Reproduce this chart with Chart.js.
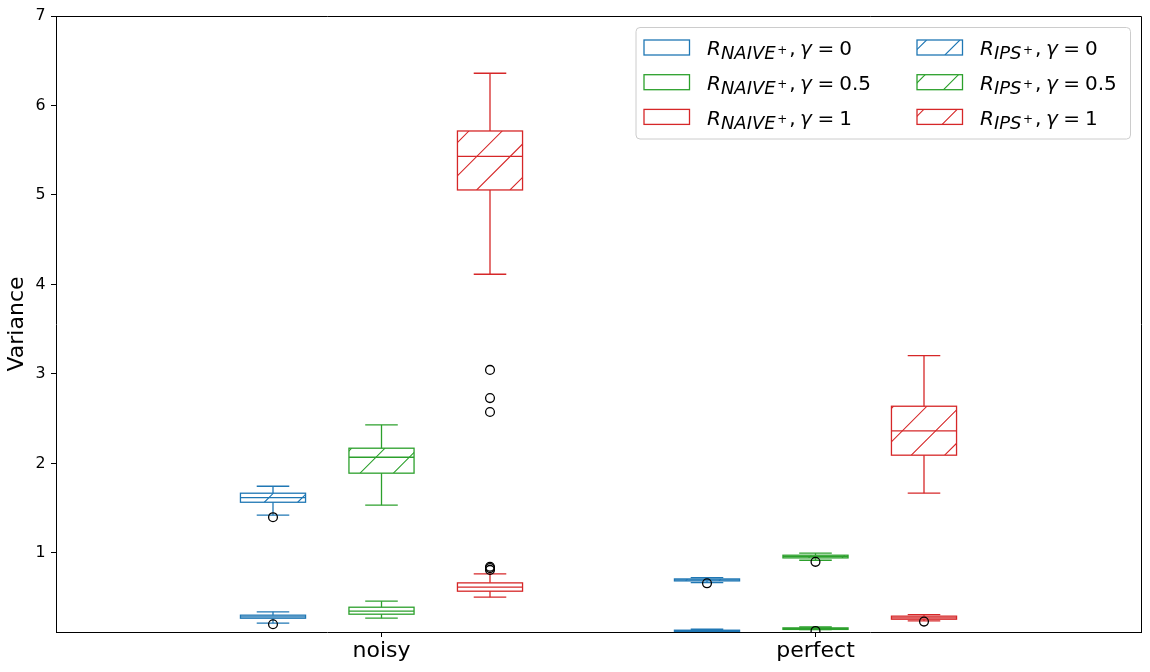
<!DOCTYPE html>
<html><head><meta charset="utf-8">
<script src="https://cdn.jsdelivr.net/npm/chart.js@4.4.1/dist/chart.umd.min.js"></script>
<style>html,body{margin:0;padding:0;background:#fff;} canvas{display:block;}</style>
</head><body>
<canvas id="c" width="1150" height="672" style="width:1150px;height:672px"></canvas>
<script>
// ---------------- data ----------------
const categories = ['noisy', 'perfect'];
const categoryPositions = [3, 7];
const gammaLabels = ['0', '0.5', '1'];
const gammaOffsets = [-1, 0, 1];
const yTickValues = [1, 2, 3, 4, 5, 6, 7];
const yAxisTitle = 'Variance';

// five-number summaries: [lower whisker, Q1, median, Q3, upper whisker]; one entry per category
const naiveG0  = [[0.215, 0.270, 0.285, 0.304, 0.341], [0.100, 0.121, 0.128, 0.136, 0.147]];
const naiveG05 = [[0.270, 0.315, 0.349, 0.393, 0.460], [0.142, 0.145, 0.153, 0.162, 0.172]];
const naiveG1  = [[0.505, 0.572, 0.617, 0.665, 0.765], [0.240, 0.259, 0.274, 0.293, 0.311]];
const ipsG0    = [[1.421, 1.566, 1.618, 1.667, 1.745], [0.668, 0.687, 0.698, 0.709, 0.724]];
const ipsG05   = [[1.533, 1.891, 2.069, 2.170, 2.430], [0.918, 0.944, 0.959, 0.974, 0.997]];
const ipsG1    = [[4.114, 5.056, 5.432, 5.715, 6.360], [1.667, 2.092, 2.363, 2.639, 3.204]];

// outliers, one list per category
const naiveG0Out  = [[0.203], []];
const naiveG05Out = [[], [0.128]];
const naiveG1Out  = [[0.810, 0.830, 0.845], [0.232]];
const ipsG0Out    = [[1.399], [0.660]];
const ipsG05Out   = [[], [0.900]];
const ipsG1Out    = [[3.045, 2.730, 2.575], []];

// ---------------- styling ----------------
const seriesColors = ['#1f77b4', '#2ca02c', '#d62728'];
const FONT = 'DejaVu Sans';
const BOX_HALF = 0.3, CAP_HALF = 0.15;
const HATCH_STEP = 33.33;

const boxSeries = [
  {sub: 'NAIVE', hatch: false, stats: [naiveG0, naiveG05, naiveG1], outliers: [naiveG0Out, naiveG05Out, naiveG1Out]},
  {sub: 'IPS',   hatch: true,  stats: [ipsG0, ipsG05, ipsG1],       outliers: [ipsG0Out, ipsG05Out, ipsG1Out]}
];

const datasets = [];
boxSeries.forEach(s => s.outliers.forEach((perCat, g) => {
  const pts = [];
  perCat.forEach((vals, c) => vals.forEach(v => pts.push({x: categoryPositions[c] + gammaOffsets[g], y: v})));
  datasets.push({
    label: 'R_' + s.sub + ' γ=' + gammaLabels[g] + ' outliers',
    data: pts, showLine: false,
    pointRadius: 4.4, pointHoverRadius: 4.4,
    pointBorderColor: '#000', pointBackgroundColor: 'rgba(0,0,0,0)', pointBorderWidth: 1.3
  });
}));

function drawHatch(ctx, x0, y0, x1, y1, color) {
  ctx.save();
  ctx.beginPath(); ctx.rect(x0, y0, x1 - x0, y1 - y0); ctx.clip();
  ctx.strokeStyle = color; ctx.lineWidth = 1.1;
  const kmin = Math.floor((x0 + y0) / HATCH_STEP), kmax = Math.ceil((x1 + y1) / HATCH_STEP);
  ctx.beginPath();
  for (let k = kmin; k <= kmax; k++) {
    const c = k * HATCH_STEP;
    ctx.moveTo(c - y1, y1); ctx.lineTo(c - y0, y0);
  }
  ctx.stroke();
  ctx.restore();
}

function seg(ctx, a, b, c, d) { ctx.beginPath(); ctx.moveTo(a, b); ctx.lineTo(c, d); ctx.stroke(); }

const boxPlugin = {
  id: 'boxes',
  beforeDatasetsDraw(chart) {
    const {ctx, chartArea: a, scales: {x, y}} = chart;
    ctx.save();
    ctx.beginPath(); ctx.rect(a.left, a.top, a.right - a.left, a.bottom - a.top); ctx.clip();
    boxSeries.forEach(s => s.stats.forEach((perCat, g) => {
      const col = seriesColors[g];
      perCat.forEach((st, c) => {
        const pos = categoryPositions[c] + gammaOffsets[g];
        const xc = x.getPixelForValue(pos);
        const xl = x.getPixelForValue(pos - BOX_HALF), xr = x.getPixelForValue(pos + BOX_HALF);
        const cl = x.getPixelForValue(pos - CAP_HALF), cr = x.getPixelForValue(pos + CAP_HALF);
        const [lo, q1, med, q3, hi] = st.map(v => y.getPixelForValue(v));
        if (s.hatch) drawHatch(ctx, xl, q3, xr, q1, col);
        ctx.strokeStyle = col; ctx.lineWidth = 1.3;
        ctx.strokeRect(xl, q3, xr - xl, q1 - q3);
        seg(ctx, xl, med, xr, med);
        seg(ctx, xc, q3, xc, hi);
        seg(ctx, xc, q1, xc, lo);
        seg(ctx, cl, hi, cr, hi);
        seg(ctx, cl, lo, cr, lo);
      });
    }));
    ctx.restore();
  }
};

const framePlugin = {
  id: 'frame',
  afterDraw(chart) {
    const {ctx, chartArea: a} = chart;
    ctx.save();
    ctx.strokeStyle = '#000'; ctx.lineWidth = 1;
    ctx.beginPath();
    ctx.moveTo(Math.round(a.left) + 0.5, Math.round(a.top) + 0.5);
    ctx.lineTo(Math.round(a.right) + 0.5, Math.round(a.top) + 0.5);
    ctx.lineTo(Math.round(a.right) + 0.5, Math.round(a.bottom) + 0.5);
    ctx.stroke();
    ctx.restore();
  }
};

function drawLabel(ctx, x, base, sub, gamma) {
  ctx.fillStyle = '#000'; ctx.textBaseline = 'alphabetic'; ctx.textAlign = 'left';
  const put = (t, style, size, dy) => {
    ctx.font = `${style} ${size}px "${FONT}"`;
    ctx.fillText(t, x, base + dy);
    x += ctx.measureText(t).width;
  };
  put('R', 'italic', 20, 0);
  put(sub, 'italic', 18, 4);
  x += 1.5;
  put('+', 'normal', 12, -1.7);
  x += 2;
  put(',', 'normal', 20, 0);
  x += 4.5;
  put('γ', 'italic', 20, 0);
  x += 5.5;
  put('=', 'normal', 20, 0);
  x += 5;
  put(gamma, 'normal', 20, 0);
}

const legendPlugin = {
  id: 'boxLegend',
  afterDraw(chart) {
    const ctx = chart.ctx;
    ctx.save();
    const fx = 636, fy = 27.5, fw = 494.5, fh = 111.5, r = 4;
    ctx.beginPath();
    ctx.roundRect(fx, fy, fw, fh, r);
    ctx.fillStyle = 'rgba(255,255,255,0.8)'; ctx.fill();
    ctx.strokeStyle = '#cccccc'; ctx.lineWidth = 1; ctx.stroke();
    const colSwatchX = [644, 917], colTextX = [707, 980];
    const rowTop = [40, 74.7, 109.4], rowBase = [55.3, 90, 124.7];
    const sw = 45.5, sh = 15;
    boxSeries.forEach((s, ci) => {
      gammaLabels.forEach((gl, ri) => {
        const col = seriesColors[ri];
        const x0 = colSwatchX[ci], y0 = rowTop[ri];
        if (s.hatch) drawHatch(ctx, x0, y0, x0 + sw, y0 + sh, col);
        ctx.strokeStyle = col; ctx.lineWidth = 1.3;
        ctx.strokeRect(x0, y0, sw, sh);
        drawLabel(ctx, colTextX[ci], rowBase[ri], s.sub, gl);
      });
    });
    ctx.restore();
  }
};

new Chart(document.getElementById('c'), {
  type: 'scatter',
  data: {datasets},
  options: {
    responsive: false, animation: false, devicePixelRatio: 1,
    layout: {padding: {top: 16, right: 9, left: 0, bottom: 0}},
    plugins: {legend: {display: false}, tooltip: {enabled: false}},
    events: [],
    scales: {
      x: {
        type: 'linear', min: 0, max: 10,
        afterBuildTicks: s => { s.ticks = categoryPositions.map(v => ({value: v})); },
        afterFit: s => { s.height = 40; },
        ticks: {
          callback: v => categories[categoryPositions.indexOf(v)],
          font: {family: FONT, size: 22}, color: '#000', padding: 1,
          maxRotation: 0, autoSkip: false
        },
        grid: {drawOnChartArea: false, drawTicks: true, tickLength: 5, tickColor: '#000', tickWidth: 1},
        border: {display: true, color: '#000', width: 1}
      },
      y: {
        type: 'linear', min: 0.116, max: 7,
        afterBuildTicks: s => { s.ticks = yTickValues.map(v => ({value: v})); },
        afterFit: s => { s.width = 56; },
        ticks: {font: {family: FONT, size: 15.8}, color: '#000', padding: 5.5, autoSkip: false},
        grid: {drawOnChartArea: false, drawTicks: true, tickLength: 5, tickColor: '#000', tickWidth: 1},
        border: {display: true, color: '#000', width: 1},
        title: {display: true, text: yAxisTitle, font: {family: FONT, size: 22}, color: '#000'}
      }
    }
  },
  plugins: [boxPlugin, framePlugin, legendPlugin]
});
</script>
</body></html>
